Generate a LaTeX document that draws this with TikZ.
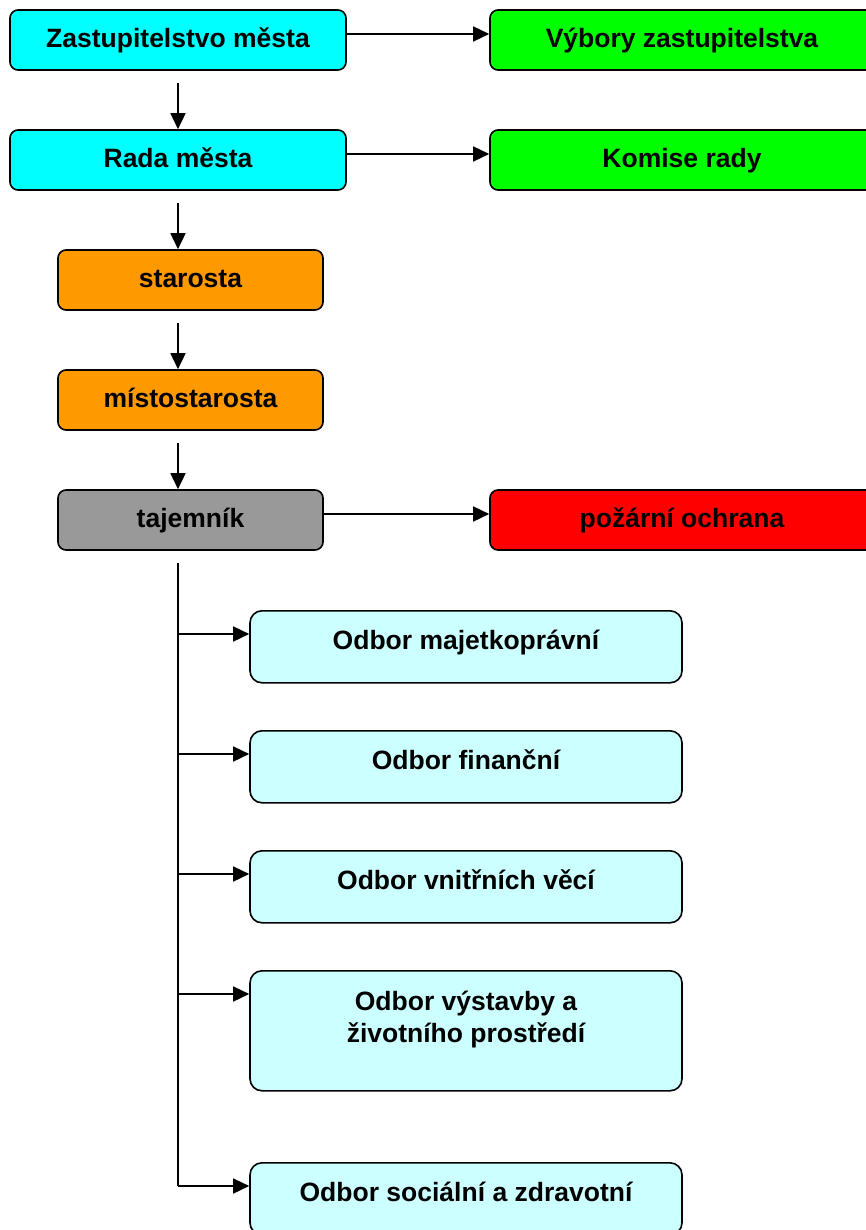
\documentclass[tikz,border=0pt]{standalone}
\usepackage{fontspec}
\setmainfont{Liberation Sans}
\usetikzlibrary{arrows.meta,calc}
\definecolor{boardcyan}{HTML}{00FFFF}
\definecolor{boardgreen}{HTML}{00FF00}
\definecolor{headorange}{HTML}{FF9900}
\definecolor{clerkgray}{HTML}{999999}
\definecolor{firered}{HTML}{FF0000}
\definecolor{deptcyan}{HTML}{CCFFFF}
\tikzset{
	box/.style={draw, line width=1.6pt, rounded corners=8pt, minimum height=60pt, inner sep=0pt,
		font=\bfseries\fontsize{26.5}{30}\selectfont, text height=19pt, text depth=4pt},
	dept/.style={draw, line width=1.6pt, rounded corners=12pt, fill=deptcyan, minimum width=432pt, inner sep=0pt},
	lbl/.style={inner sep=0pt, align=center, font=\bfseries\fontsize{26.5}{32}\selectfont},
	arr/.style={line width=1.5pt, -{Triangle[length=16pt,width=15pt]}},
}
\begin{document}
\begin{tikzpicture}[x=1pt,y=-1pt]
	%
	\def\width{866}
	\def\height{1230}
	\def\gap{12}
	\clip (0,0) rectangle (\width,\height);
	\coordinate (spine) at (178,0);
	% council and board
	\node[box, fill=boardcyan, minimum width=336pt] (zast) at (178,40) {Zastupitelstvo města};
	\node[box, fill=boardcyan, minimum width=336pt] (rada) at (178,160) {Rada města};
	\node[box, fill=boardgreen, minimum width=384pt] (vyb) at (682,40) {Výbory zastupitelstva};
	\node[box, fill=boardgreen, minimum width=384pt] (kom) at (682,160) {Komise rady};
	% mayor and secretary
	\node[box, fill=headorange, minimum width=265pt] (staro) at (190.5,280) {starosta};
	\node[box, fill=headorange, minimum width=265pt] (misto) at (190.5,400) {místostarosta};
	\node[box, fill=clerkgray, minimum width=265pt] (taj) at (190.5,520) {tajemník};
	\node[box, fill=firered, minimum width=384pt] (poz) at (682,520) {požární ochrana};
	% arrows down
	\foreach \a/\b in {zast/rada,rada/staro,staro/misto,misto/taj}
		\draw[arr] ([yshift=-\gap pt]spine |- \a.south) -- (spine |- \b.north);
	% arrows right
	\foreach \a/\b in {zast/vyb,rada/kom,taj/poz}
		\draw[arr] ([yshift=6pt]\a.east) -- ([yshift=6pt]\b.west);
	% departments (\b = baseline of the last line below the top)
	\foreach \n/\y/\h/\b/\txt in {maj/610/72/39/Odbor majetkoprávní,fin/730/72/39/Odbor finanční,vni/850/72/39/Odbor vnitřních věcí,vys/970/120/72/{Odbor výstavby a\\životního prostředí},soc/1162/72/39/Odbor sociální a zdravotní}
	{
		\node[dept, minimum height=\h pt, anchor=north] (\n) at (466,\y) {};
		\node[lbl, anchor=base] (\n-t) at ([yshift=-\b pt]\n.north) {\txt};
		\draw[arr] ([yshift=-24pt]spine |- \n.north) -- ([yshift=-24pt]\n.north west);
	}
	% trunk
	\draw[line width=1.5pt] ([yshift=-\gap pt]spine |- taj.south) -- ([yshift=-24pt]spine |- soc.north);
\end{tikzpicture}
\end{document}
